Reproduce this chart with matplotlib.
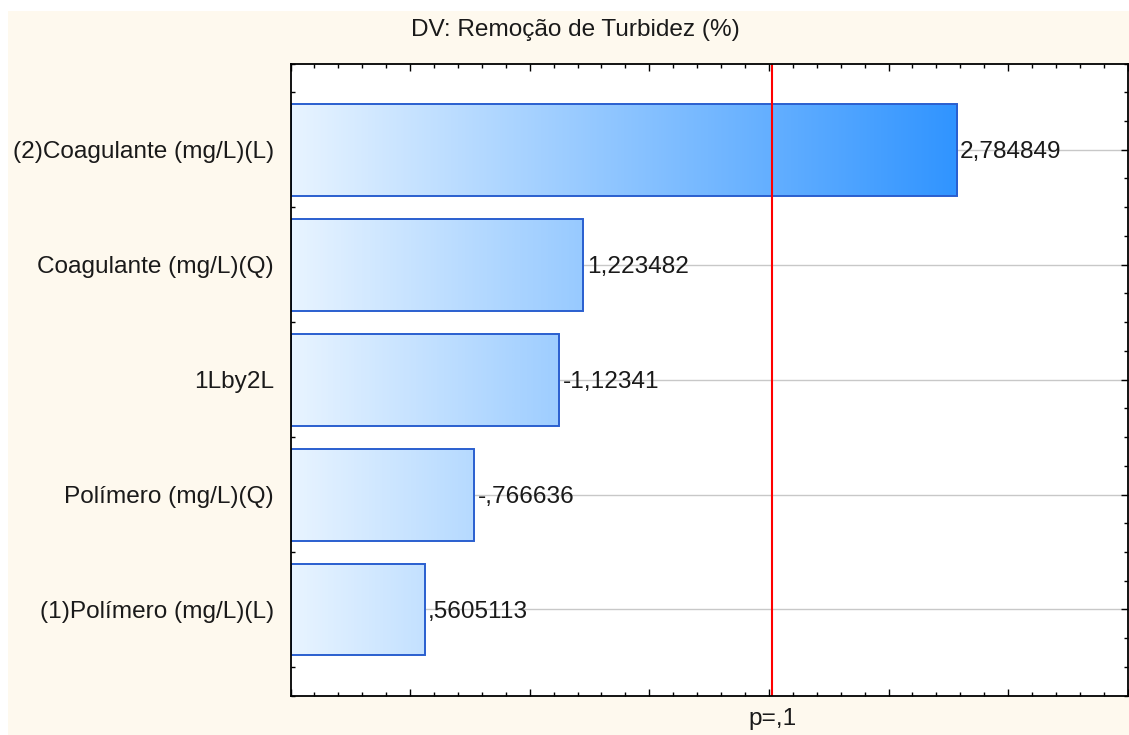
import numpy as np
import matplotlib
matplotlib.use("Agg")
import matplotlib.pyplot as plt
from matplotlib.patches import Rectangle
from matplotlib.colors import LinearSegmentedColormap
from matplotlib.ticker import MultipleLocator
import matplotlib.transforms as mtransforms

plt.rcParams['font.family'] = ['Liberation Sans', 'DejaVu Sans']

# Standardized effect estimates (Pareto chart), top to bottom
effects = ["(2)Coagulante (mg/L)(L)", "Coagulante (mg/L)(Q)", "1Lby2L",
           "Polímero (mg/L)(Q)", "(1)Polímero (mg/L)(L)"]
estimates = [2.784849, 1.223482, -1.12341, -0.766636, 0.5605113]
p_level = 0.1
t_crit = 2.015048  # t(0.95; df=5)
title = "DV: Remoção de Turbidez (%)"

FS = 17.6


def stat_fmt(v):
    # comma decimal, no leading zero
    s = f"{v:.7g}"
    s = s.replace("0.", ".", 1) if s.lstrip("-").startswith("0.") else s
    return s.replace(".", ",")


fig = plt.figure(figsize=(11.29, 7.35), dpi=100, facecolor="white")
fig.patches.append(Rectangle((8 / 1129, 0), 1, (735 - 11) / 735,
                             transform=fig.transFigure, facecolor="#fef9ee",
                             edgecolor="none", zorder=-10))

ax = fig.add_axes([290.5 / 1129, 39.3 / 735, (1127.7 - 290.5) / 1129, 632.2 / 735])
ax.set_facecolor("white")

cmap = LinearSegmentedColormap.from_list("bluegrad", ["#e8f4ff", "#3094ff"])
vmax = max(abs(v) for v in estimates)
h = 0.8
ypos = np.arange(len(effects))

for i, v in enumerate(estimates):
    a = abs(v)
    grad = np.linspace(0, a / vmax, 256).reshape(1, -1)
    ax.imshow(grad, cmap=cmap, vmin=0, vmax=1, aspect="auto",
              extent=[0, a, ypos[i] + h / 2, ypos[i] - h / 2],
              interpolation="bilinear", zorder=2)
    ax.add_patch(Rectangle((0, ypos[i] - h / 2), a, h, fill=False,
                           edgecolor="#2a5fcf", linewidth=1.4, zorder=3))
    ax.text(a + 0.015, ypos[i], stat_fmt(v), ha="left", va="center_baseline",
            fontsize=FS, color="#1a1a1a", zorder=4)

# horizontal grid behind bars
for y in ypos:
    ax.axhline(y, color="#c8c8c8", linewidth=1, zorder=1)

ax.axvline(t_crit, color="red", linewidth=1.5, zorder=5)
trans = mtransforms.blended_transform_factory(ax.transData, ax.transAxes)
ax.text(t_crit, -0.037, "p=" + stat_fmt(p_level), transform=trans,
        ha="center", va="center", fontsize=FS, color="#1a1a1a")

ax.set_xlim(0, 3.5)
ax.set_ylim(len(effects) - 0.25, -0.75)
ax.set_yticks(ypos)
ax.set_yticklabels(effects, fontsize=FS, color="#1a1a1a")
ax.yaxis.set_minor_locator(MultipleLocator(0.25))
ax.xaxis.set_major_locator(MultipleLocator(0.5))
ax.xaxis.set_minor_locator(MultipleLocator(0.1))
ax.tick_params(axis="both", which="both", direction="in", top=True, right=True,
               color="black", width=1)
ax.tick_params(axis="both", which="major", length=5)
ax.tick_params(axis="both", which="minor", length=3)
ax.tick_params(axis="x", which="both", labelbottom=False)
ax.tick_params(axis="y", which="major", pad=12)
for sp in ax.spines.values():
    sp.set_linewidth(1.3)
    sp.set_color("black")
    sp.set_zorder(6)

fig.text(575.8 / 1129, 1 - 30 / 735, title, ha="center", va="center",
         fontsize=FS, color="#1a1a1a")

fig.savefig("out.png", dpi=100, facecolor=fig.get_facecolor())
